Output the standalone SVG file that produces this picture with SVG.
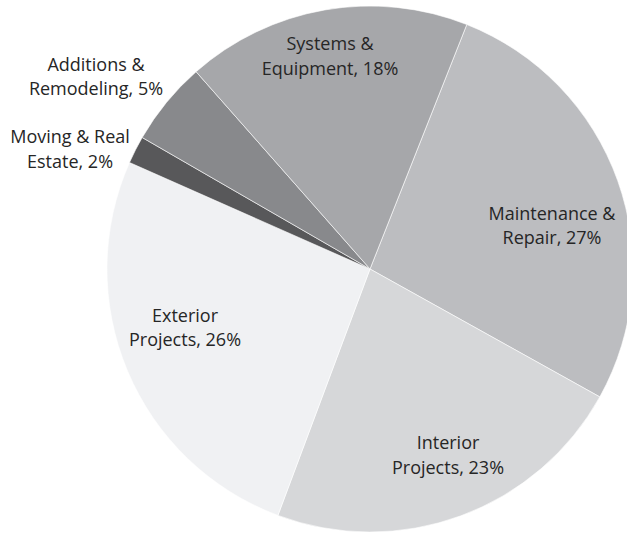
<svg xmlns="http://www.w3.org/2000/svg" width="627" height="533" viewBox="0 0 627 533">
<style>
.lbl{font-family:"Open Sans","Liberation Sans",sans-serif;font-size:18px;fill:#262626;text-anchor:middle}
.sl{stroke:#ffffff;stroke-width:0.6;stroke-linejoin:round}
</style>
<rect width="627" height="533" fill="#ffffff"/>
<g id="slice-maintenance"><path class="sl" d="M370,269 L466.8,24.5 A263,263 0 0 1 599.8,396.9 Z" fill="#bcbdc0"/></g>
<g id="slice-interior"><path class="sl" d="M370,269 L599.8,396.9 A263,263 0 0 1 277.9,515.4 Z" fill="#d6d7d9"/></g>
<g id="slice-exterior"><path class="sl" d="M370,269 L277.9,515.4 A263,263 0 0 1 129.5,162.5 Z" fill="#f0f1f3"/></g>
<g id="slice-moving"><path class="sl" d="M370,269 L129.5,162.5 A263,263 0 0 1 142.2,137.5 Z" fill="#58585a"/></g>
<g id="slice-additions"><path class="sl" d="M370,269 L142.2,137.5 A263,263 0 0 1 196.1,71.7 Z" fill="#88898c"/></g>
<g id="slice-systems"><path class="sl" d="M370,269 L196.1,71.7 A263,263 0 0 1 466.8,24.5 Z" fill="#a6a7aa"/></g>
<g id="labels">
<text class="lbl" x="330" y="50">Systems &amp;</text>
<text class="lbl" x="330" y="75">Equipment, 18%</text>
<text class="lbl" x="552" y="220">Maintenance &amp;</text>
<text class="lbl" x="552" y="244">Repair, 27%</text>
<text class="lbl" x="448" y="449">Interior</text>
<text class="lbl" x="448" y="474">Projects, 23%</text>
<text class="lbl" x="185" y="322">Exterior</text>
<text class="lbl" x="185" y="346">Projects, 26%</text>
<text class="lbl" x="96" y="71">Additions &amp;</text>
<text class="lbl" x="96" y="95">Remodeling, 5%</text>
<text class="lbl" x="70" y="143">Moving &amp; Real</text>
<text class="lbl" x="70" y="168">Estate, 2%</text>
</g>
</svg>
